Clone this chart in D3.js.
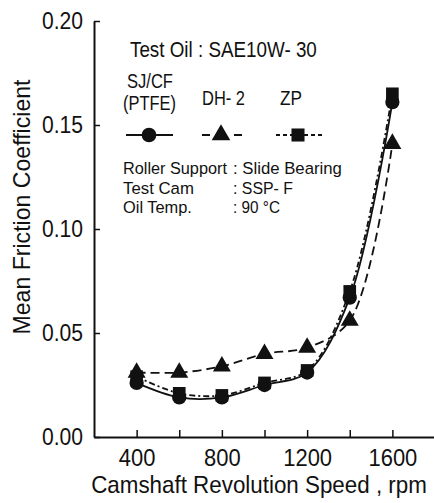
<!DOCTYPE html>
<html>
<head>
<meta charset="utf-8">
<script src="https://cdn.jsdelivr.net/npm/d3@7"></script>
<style>
  body { margin: 0; background: #fff; }
  text { font-family: "Liberation Sans", Arial, sans-serif; fill: #111; }
</style>
</head>
<body>
<div id="chart-area"></div>
<script>
// data
var speeds = [400, 600, 800, 1000, 1200, 1400, 1600];
var sjcf = [0.026, 0.019, 0.019, 0.025, 0.031, 0.067, 0.161];
var dh2  = [0.031, 0.031, 0.034, 0.040, 0.043, 0.056, 0.141];
var zp   = [0.029, 0.021, 0.020, 0.026, 0.032, 0.070, 0.165];
var seriesNames = ["SJ/CF (PTFE)", "DH- 2", "ZP"];
var yTicks = [0, 0.05, 0.10, 0.15, 0.20];
var xTicks = [400, 600, 800, 1000, 1200, 1400, 1600];
var xLabels = [400, 800, 1200, 1600];

var width = 434, height = 503;

var svg = d3.select("#chart-area")
    .append("svg")
    .attr("width", width)
    .attr("height", height);

// the source uses a narrow sans; draw at full size, then squeeze to the measured width
function addText(str, px, py, size, w, anchor, rot) {
    var g = svg.append("g")
        .attr("transform", "translate(" + px + "," + py + ")" + (rot ? " rotate(" + rot + ")" : ""));
    var t = g.append("text")
        .attr("font-size", size + "px")
        .attr("text-anchor", anchor || "start")
        .text(str);
    var natural = t.node().getComputedTextLength();
    t.attr("transform", "scale(" + (w / natural) + ",1)");
    return t;
}

// scales
var x = d3.scaleLinear().domain([200, 1800]).range([94, 435]);
var y = d3.scaleLinear().domain([0, 0.2]).range([437, 21]);

// axes (ticks point inward)
var yAxis = d3.axisLeft(y)
    .tickValues(yTicks)
    .tickSizeInner(-6)
    .tickSizeOuter(0)
    .tickPadding(11)
    .tickFormat(d3.format(".2f"));

var xAxis = d3.axisBottom(x)
    .tickValues(xTicks)
    .tickSizeInner(-7)
    .tickSizeOuter(0)
    .tickPadding(13)
    .tickFormat(d => xLabels.indexOf(d) >= 0 ? d : "");

var gy = svg.append("g")
    .attr("transform", "translate(" + x(200) + ",0)")
    .call(yAxis);
var gx = svg.append("g")
    .attr("transform", "translate(0," + y(0) + ")")
    .call(xAxis);

[gx, gy].forEach(g => {
    g.select(".domain").attr("stroke", "#111").attr("stroke-width", 2);
    g.selectAll(".tick line").attr("stroke", "#111").attr("stroke-width", 1.5);
    g.selectAll(".tick text")
        .attr("font-family", "Liberation Sans, Arial, sans-serif")
        .attr("font-size", "23px")
        .attr("lengthAdjust", "spacingAndGlyphs")
        .attr("fill", "#111");
});
gy.selectAll(".tick text").attr("textLength", 41);
gx.selectAll(".tick text")
    .filter(d => xLabels.indexOf(d) >= 0)
    .attr("textLength", d => String(d).length * 12.2);

// axis titles
addText("Camshaft Revolution Speed , rpm", 259, 493, 24, 336, "middle");
addText("Mean Friction Coefficient", 30, 207, 24, 255, "middle", -90);

// series
var series = [
    { name: seriesNames[0], values: sjcf, dash: null, marker: "circle" },
    { name: seriesNames[1], values: dh2, dash: "9,5", marker: "triangle" },
    { name: seriesNames[2], values: zp, dash: "6,3,2,3", marker: "square" }
];

var line = d3.line()
    .x((d, i) => x(speeds[i]))
    .y(d => y(d))
    .curve(d3.curveCatmullRom.alpha(0.5));

var symbolType = {
    circle: d3.symbolCircle,
    triangle: d3.symbolTriangle,
    square: d3.symbolSquare
};
var symbolSize = { circle: 160, triangle: 140, square: 160 };

series.forEach(s => {
    svg.append("path")
        .datum(s.values)
        .attr("fill", "none")
        .attr("stroke", "#111")
        .attr("stroke-width", 1.8)
        .attr("stroke-dasharray", s.dash)
        .attr("d", line);
});

series.forEach(s => {
    svg.selectAll(null)
        .data(s.values)
        .enter()
        .append("path")
        .attr("transform", (d, i) => "translate(" + x(speeds[i]) + "," + y(d) + ")")
        .attr("d", d3.symbol().type(symbolType[s.marker]).size(symbolSize[s.marker]))
        .attr("fill", "#111");
});

// legend and notes
addText("Test Oil : SAE10W- 30", 130, 57, 23, 187);

var legendItems = [
    { lines: ["SJ/CF", "(PTFE)"], tx: [127, 123], ty: [88, 110], tl: [46, 53], x1: 126, x2: 173, mx: 149 },
    { lines: ["DH- 2"], tx: [202], ty: [105], tl: [43], x1: 202, x2: 242, mx: 221 },
    { lines: ["ZP"], tx: [280], ty: [105], tl: [22], x1: 276, x2: 325, mx: 298 }
];

legendItems.forEach((item, k) => {
    item.lines.forEach((t, j) => {
        addText(t, item.tx[j], item.ty[j], 21, item.tl[j]);
    });
    svg.append("line")
        .attr("x1", item.x1).attr("x2", item.x2)
        .attr("y1", 135).attr("y2", 135)
        .attr("stroke", "#111")
        .attr("stroke-width", 1.8)
        .attr("stroke-dasharray", k == 1 ? "8,8" : (k == 2 ? "4,3" : null));
    svg.append("path")
        .attr("transform", "translate(" + item.mx + ",135)")
        .attr("d", d3.symbol().type(symbolType[series[k].marker]).size(symbolSize[series[k].marker] + 10))
        .attr("fill", "#111");
});

var notes = [
    ["Roller Support", ": Slide Bearing"],
    ["Test Cam", ": SSP- F"],
    ["Oil Temp.", ": 90 \u00b0C"]
];
var noteLen = [[104, 109], [71, 60], [69, 47]];

notes.forEach((n, i) => {
    addText(n[0], 123, 174 + i * 19.5, 17, noteLen[i][0]);
    addText(n[1], 233, 174 + i * 19.5, 17, noteLen[i][1]);
});
</script>
</body>
</html>
